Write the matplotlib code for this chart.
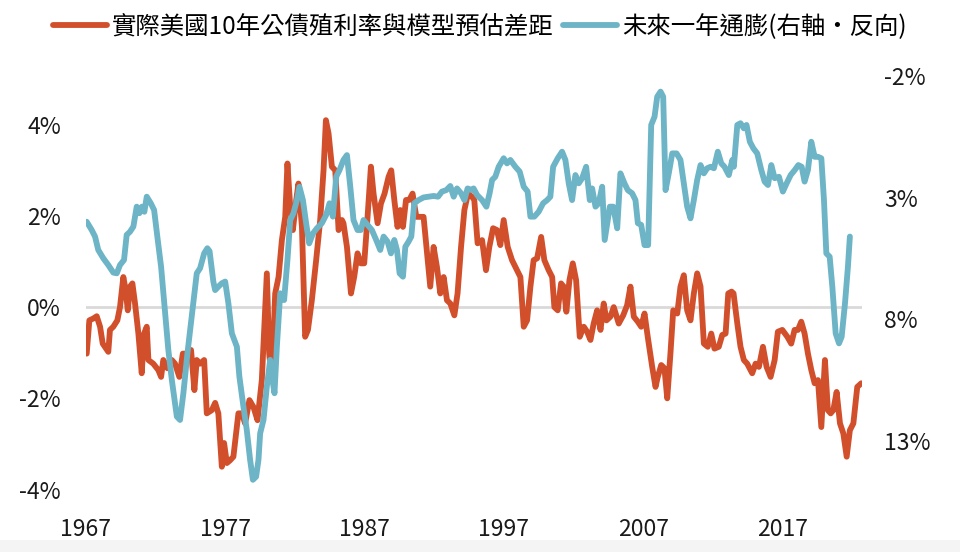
import matplotlib
matplotlib.use("Agg")
import matplotlib.pyplot as plt
from matplotlib.patches import Rectangle

plt.rcParams['font.family'] = ['Noto Sans CJK TC', 'DejaVu Sans']

# real 10y yield minus model estimate (%), left axis
gap_years = [
    1967.05, 1967.24, 1967.52, 1967.77, 1968.01, 1968.20, 1968.60, 1968.72, 1968.96, 1969.25,
    1969.44, 1969.68, 1969.85, 1970.00, 1970.16, 1970.33, 1970.52, 1970.76, 1971.00, 1971.17,
    1971.36, 1971.48, 1971.83, 1972.19, 1972.39, 1972.55, 1972.84, 1973.16, 1973.39, 1973.70,
    1973.95, 1974.23, 1974.54, 1974.78, 1974.95, 1975.19, 1975.48, 1975.67, 1976.03, 1976.27,
    1976.50, 1976.75, 1976.91, 1977.11, 1977.34, 1977.58, 1977.94, 1978.19, 1978.42, 1978.73,
    1979.02, 1979.31, 1979.62, 1979.98, 1980.15, 1980.34, 1980.58, 1980.82, 1981.06, 1981.30,
    1981.46, 1981.66, 1981.85, 1982.09, 1982.25, 1982.50, 1982.73, 1982.93, 1983.21, 1983.52,
    1983.81, 1984.05, 1984.22, 1984.41, 1984.65, 1984.89, 1985.13, 1985.37, 1985.48, 1985.73,
    1986.02, 1986.25, 1986.49, 1986.73, 1986.97, 1987.21, 1987.45, 1987.64, 1987.93, 1988.17,
    1988.43, 1988.72, 1988.91, 1989.13, 1989.36, 1989.56, 1989.75, 1989.97, 1990.20, 1990.44,
    1990.71, 1990.99, 1991.23, 1991.48, 1991.71, 1991.95, 1992.19, 1992.43, 1992.67, 1992.91,
    1993.15, 1993.44, 1993.67, 1993.92, 1994.16, 1994.42, 1994.71, 1994.87, 1995.11, 1995.43,
    1995.71, 1995.95, 1996.22, 1996.50, 1996.74, 1996.98, 1997.27, 1997.58, 1997.87, 1998.18,
    1998.42, 1998.66, 1998.90, 1999.13, 1999.38, 1999.67, 1999.90, 2000.21, 2000.46, 2000.62,
    2000.86, 2001.10, 2001.29, 2001.48, 2001.70, 2001.94, 2002.18, 2002.44, 2002.73, 2002.97,
    2003.21, 2003.44, 2003.69, 2003.93, 2004.16, 2004.36, 2004.64, 2004.88, 2005.24, 2005.56,
    2005.84, 2006.08, 2006.32, 2006.61, 2006.85, 2007.09, 2007.32, 2007.64, 2007.88, 2008.04,
    2008.29, 2008.52, 2008.72, 2008.95, 2009.15, 2009.44, 2009.67, 2009.91, 2010.15, 2010.39,
    2010.63, 2010.87, 2011.11, 2011.35, 2011.63, 2011.88, 2012.11, 2012.42, 2012.67, 2012.91,
    2013.10, 2013.34, 2013.48, 2013.75, 2013.98, 2014.22, 2014.46, 2014.82, 2015.06, 2015.30,
    2015.59, 2015.85, 2016.14, 2016.43, 2016.66, 2016.98, 2017.34, 2017.62, 2017.86, 2018.10,
    2018.34, 2018.58, 2018.82, 2019.06, 2019.30, 2019.54, 2019.78, 2020.04, 2020.25, 2020.45,
    2020.64, 2020.88, 2021.12, 2021.36, 2021.60, 2021.83, 2022.08, 2022.36, 2022.65,
]
gap_values = [
    -1.02, -0.29, -0.25, -0.20, -0.43, -0.80, -0.98, -0.50, -0.43, -0.29,
    0.00, 0.66, 0.37, -0.07, 0.45, 0.52, 0.08, -0.58, -1.45, -0.58,
    -0.43, -1.16, -1.24, -1.38, -1.53, -1.16, -1.34, -1.16, -1.24, -1.53,
    -1.02, -1.02, -0.94, -1.82, -1.16, -1.24, -1.16, -2.33, -2.26, -2.10,
    -2.33, -3.50, -2.98, -3.42, -3.36, -3.28, -2.33, -2.33, -2.55, -2.04,
    -2.19, -2.48, -1.60, 0.74, -1.02, -1.60, 0.30, 0.66, 1.47, 1.98,
    3.15, 2.20, 1.69, 2.35, 2.71, 1.76, -0.65, -0.50, 0.15, 1.03,
    1.91, 3.00, 4.10, 3.81, 3.08, 3.00, 1.69, 1.91, 1.84, 1.32,
    0.30, 0.66, 1.18, 0.96, 0.96, 1.98, 3.08, 2.49, 1.84, 2.27,
    2.49, 2.86, 3.00, 2.35, 1.76, 2.13, 1.76, 2.35, 2.35, 2.49,
    1.98, 1.98, 1.98, 1.18, 0.45, 1.32, 0.88, 0.30, 0.66, 0.15,
    0.08, -0.18, 0.30, 1.32, 2.13, 2.49, 2.42, 2.35, 1.40, 1.47,
    0.81, 1.32, 1.73, 1.69, 1.36, 1.91, 1.32, 1.03, 0.85, 0.66,
    -0.43, -0.29, 0.45, 1.03, 1.07, 1.54, 1.03, 0.81, 0.66, 0.00,
    -0.07, 0.52, 0.45, -0.10, 0.59, 0.96, 0.59, -0.65, -0.43, -0.54,
    -0.72, -0.36, -0.07, -0.50, 0.08, -0.29, -0.21, 0.00, -0.36, -0.18,
    0.04, 0.45, -0.21, -0.32, -0.43, -0.14, -0.65, -1.31, -1.75, -1.53,
    -1.27, -1.34, -2.00, -1.02, -0.07, -0.14, 0.45, 0.70, -0.07, -0.29,
    0.30, 0.74, 0.45, -0.80, -0.87, -0.58, -0.91, -0.87, -0.61, -0.58,
    0.30, 0.34, 0.30, -0.36, -0.87, -1.16, -1.24, -1.45, -1.24, -1.31,
    -0.87, -1.31, -1.53, -1.16, -0.54, -0.50, -0.65, -0.80, -0.50, -0.50,
    -0.32, -0.58, -1.02, -1.38, -1.67, -1.60, -2.63, -1.16, -2.26, -2.33,
    -2.26, -1.86, -2.55, -2.77, -3.28, -2.70, -2.55, -1.75, -1.67,
]

# one-year-ahead inflation (%), right axis inverted
infl_years = [
    1967.05, 1967.41, 1967.65, 1967.88, 1968.24, 1968.60, 1968.96, 1969.21, 1969.44, 1969.73,
    1969.92, 1970.16, 1970.40, 1970.64, 1970.83, 1971.02, 1971.19, 1971.36, 1971.65, 1971.89,
    1972.12, 1972.39, 1972.68, 1972.91, 1973.16, 1973.39, 1973.52, 1973.75, 1973.99, 1974.28,
    1974.59, 1974.95, 1975.19, 1975.48, 1975.71, 1975.87, 1976.14, 1976.27, 1976.50, 1976.75,
    1976.99, 1977.22, 1977.47, 1977.83, 1978.01, 1978.30, 1978.54, 1978.78, 1978.98, 1979.21,
    1979.38, 1979.50, 1979.74, 1979.98, 1980.22, 1980.38, 1980.53, 1980.70, 1980.94, 1981.22,
    1981.46, 1981.66, 1981.89, 1982.14, 1982.32, 1982.57, 1982.80, 1983.02, 1983.29, 1983.57,
    1983.93, 1984.24, 1984.48, 1984.72, 1984.96, 1985.20, 1985.48, 1985.73, 1985.97, 1986.20,
    1986.49, 1986.73, 1986.92, 1987.21, 1987.52, 1987.83, 1988.12, 1988.36, 1988.65, 1988.89,
    1989.13, 1989.32, 1989.51, 1989.75, 1989.92, 1990.15, 1990.35, 1990.56, 1990.87, 1991.23,
    1991.59, 1991.95, 1992.27, 1992.55, 1992.86, 1993.15, 1993.39, 1993.63, 1993.92, 1994.16,
    1994.39, 1994.71, 1994.82, 1995.07, 1995.43, 1995.74, 1995.97, 1996.15, 1996.38, 1996.62,
    1996.98, 1997.22, 1997.46, 1997.82, 1998.13, 1998.42, 1998.70, 1998.90, 1999.18, 1999.49,
    1999.81, 2000.10, 2000.33, 2000.53, 2000.86, 2001.17, 2001.41, 2001.65, 2001.89, 2002.13,
    2002.37, 2002.61, 2002.90, 2003.16, 2003.33, 2003.57, 2003.80, 2004.05, 2004.23, 2004.60,
    2004.84, 2005.13, 2005.36, 2005.65, 2005.89, 2006.20, 2006.44, 2006.61, 2006.85, 2007.09,
    2007.35, 2007.57, 2007.81, 2008.00, 2008.24, 2008.43, 2008.60, 2008.83, 2009.08, 2009.39,
    2009.67, 2009.91, 2010.15, 2010.39, 2010.63, 2010.87, 2011.11, 2011.35, 2011.59, 2011.83,
    2012.07, 2012.35, 2012.60, 2012.83, 2013.14, 2013.39, 2013.50, 2013.75, 2013.98, 2014.22,
    2014.41, 2014.65, 2014.90, 2015.18, 2015.47, 2015.71, 2015.95, 2016.19, 2016.43, 2016.74,
    2017.02, 2017.29, 2017.58, 2017.88, 2018.13, 2018.37, 2018.58, 2018.82, 2019.06, 2019.30,
    2019.54, 2019.78, 2019.97, 2020.14, 2020.38, 2020.57, 2020.81, 2021.05, 2021.24, 2021.48,
    2021.69, 2021.83,
]
infl_values = [
    3.99, 4.33, 4.60, 5.15, 5.49, 5.77, 6.08, 6.11, 5.77, 5.56,
    4.53, 4.40, 4.19, 3.37, 3.64, 3.37, 3.58, 2.96, 3.23, 3.51,
    4.60, 5.84, 7.75, 9.26, 10.49, 11.45, 12.00, 12.14, 11.04, 9.40,
    7.89, 6.11, 5.90, 5.29, 5.08, 5.20, 6.45, 6.80, 6.66, 6.52,
    6.45, 7.34, 8.58, 9.13, 10.36, 11.59, 12.55, 13.78, 14.60, 14.47,
    13.78, 12.69, 12.14, 10.77, 9.67, 10.49, 11.04, 9.13, 6.93, 7.21,
    5.56, 3.92, 3.64, 3.10, 2.55, 3.10, 4.05, 4.88, 4.47, 4.26,
    4.05, 3.71, 3.23, 3.78, 2.14, 1.86, 1.45, 1.25, 2.55, 3.92,
    4.33, 4.33, 3.92, 4.12, 4.33, 4.74, 5.15, 4.60, 4.81, 5.29,
    4.74, 5.15, 6.11, 6.25, 5.02, 4.81, 4.60, 3.23, 3.10, 2.99,
    2.96, 2.93, 2.96, 2.75, 2.69, 2.52, 2.96, 2.62, 2.82, 3.10,
    2.62, 2.69, 2.62, 2.89, 3.10, 3.37, 2.82, 2.27, 2.14, 1.73,
    1.38, 1.59, 1.45, 1.73, 1.93, 2.55, 2.75, 3.78, 3.78, 3.58,
    3.23, 3.10, 2.96, 1.73, 1.38, 1.11, 1.45, 2.41, 3.10, 2.07,
    2.41, 2.20, 1.73, 3.10, 2.62, 3.37, 3.23, 2.55, 4.74, 3.37,
    3.37, 4.26, 2.00, 2.41, 2.69, 2.82, 3.10, 4.05, 4.12, 4.95,
    4.95, 0.01, -0.33, -1.15, -1.36, -1.15, 2.69, 2.00, 1.18, 1.18,
    1.45, 2.41, 3.37, 3.85, 3.10, 2.27, 1.66, 2.00, 1.79, 1.73,
    1.79, 1.11, 1.59, 1.73, 2.07, 1.45, 1.73, 0.01, -0.06, 0.15,
    0.01, 0.70, 0.97, 1.18, 1.86, 2.34, 2.48, 1.66, 2.20, 2.14,
    2.75, 2.41, 2.07, 1.86, 1.66, 1.73, 2.34, 1.86, 0.70, 1.32,
    1.32, 1.38, 3.10, 5.29, 5.43, 6.66, 8.58, 8.99, 8.72, 7.34,
    5.84, 4.60,
]

x_ticks = [1967, 1977, 1987, 1997, 2007, 2017]
left_ticks = [-4, -2, 0, 2, 4]
right_ticks = [-2, 3, 8, 13]

gap_label = "實際美國10年公債殖利率與模型預估差距"
infl_label = "未來一年通膨(右軸‧反向)"

red = "#D24F2C"
blue = "#6CB4C6"

fig = plt.figure(figsize=(9.6, 5.52), dpi=100)
fig.patches.append(Rectangle((0, 0), 1, 12 / 552, transform=fig.transFigure,
                             facecolor="#F4F4F4", edgecolor="none", zorder=0))
ax = fig.add_axes([86 / 960, 52 / 552, 776 / 960, 440 / 552])
ax2 = ax.twinx()

ax.axhline(0, color="#D9D9D9", lw=2, zorder=1)
l1, = ax.plot(gap_years, gap_values, color=red, lw=4.2, solid_joinstyle="round",
              solid_capstyle="round", zorder=2)
l2, = ax2.plot(infl_years, infl_values, color=blue, lw=4.2, solid_joinstyle="round",
               solid_capstyle="round", zorder=3)

ax.set_xlim(1967, 2022.7)
ax.set_ylim(-4.23, 5.42)
ax2.set_ylim(15.43, -2.66)

ax.set_xticks(x_ticks)
ax.set_xticklabels([str(y) for y in x_ticks])
ax.set_yticks(left_ticks)
ax.set_yticklabels([f"{v}%" for v in left_ticks])
ax2.set_yticks(right_ticks)
ax2.set_yticklabels([f"{v}%" for v in right_ticks])

for a in (ax, ax2):
    for s in a.spines.values():
        s.set_visible(False)
    a.tick_params(length=0, labelsize=16.5, colors="#1a1a1a")
ax.tick_params(axis="y", pad=18)
ax.tick_params(axis="x", pad=13)
ax2.tick_params(axis="y", pad=16)

fig.legend([l1, l2], [gap_label, infl_label], loc="upper center",
           bbox_to_anchor=(0.5, 1.015), ncol=2, frameon=False, fontsize=17.6,
           handlelength=2.2, handletextpad=0.2, columnspacing=0.4)

fig.savefig("out.png", dpi=100)
